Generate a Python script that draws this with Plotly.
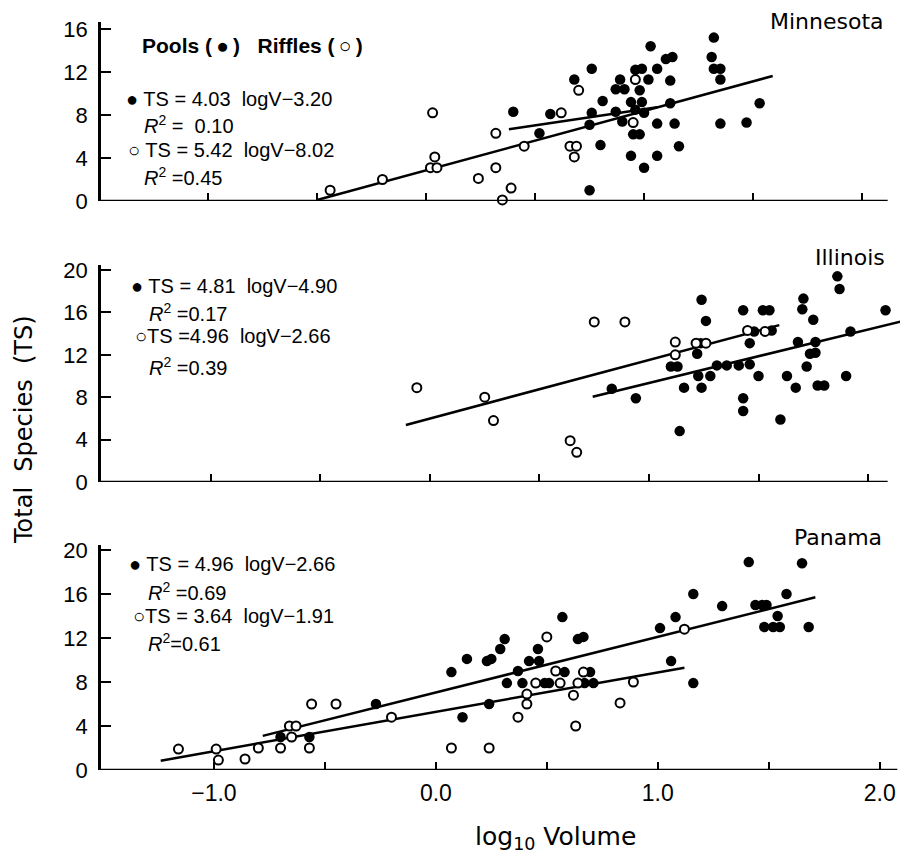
import plotly.graph_objects as go

# ---- data (log10 volume, total species) ----
# Minnesota
mn_pool_x = [0.40, 0.57, 0.52, 0.68, 0.76, 0.76, 0.75, 0.75, 0.80, 0.81,
             1.32, 1.03, 0.96, 0.99, 1.06, 1.10, 1.13, 1.31, 1.32, 1.35, 1.35,
             0.89, 1.02, 1.12, 0.87, 0.91, 0.98, 0.94, 0.99, 1.12, 1.53,
             0.87, 0.96, 1.00, 0.90, 1.06, 1.14, 1.35, 1.47, 0.95, 0.98,
             1.16, 0.94, 1.06, 1.00]
mn_pool_y = [8.3, 8.1, 6.3, 11.3, 12.3, 8.2, 7.1, 1.0, 5.2, 9.3,
             15.2, 14.4, 12.2, 12.3, 12.3, 13.2, 13.4, 13.4, 12.3, 12.3, 11.3,
             11.3, 11.3, 11.2, 10.4, 10.4, 10.3, 9.2, 9.2, 9.1, 9.1,
             8.3, 8.5, 8.2, 7.4, 7.2, 7.2, 7.2, 7.3, 6.2, 6.2,
             5.1, 4.2, 4.2, 3.1]
mn_riffle_x = [-0.44, -0.20, 0.03, 0.04, 0.02, 0.05, 0.24, 0.32, 0.35, 0.39,
               0.32, 0.45, 0.62, 0.70, 0.66, 0.69, 0.68, 0.96, 0.95]
mn_riffle_y = [1.0, 2.0, 8.2, 4.1, 3.1, 3.1, 2.1, 3.1, 0.1, 1.2,
               6.3, 5.1, 8.2, 10.3, 5.1, 5.1, 4.1, 11.3, 7.3]
mn_pool_line = ([0.38, 1.06], [6.67, 8.72])
mn_riffle_line = ([-0.50, 1.59], [0.09, 11.63])

# Illinois
il_pool_x = [0.83, 0.94, 1.22, 1.236, 1.24, 1.26, 1.10, 1.13, 1.225, 1.28,
             1.16, 1.24, 1.14, 1.31, 1.355, 1.41, 1.46, 1.43, 1.52, 1.55,
             1.48, 1.56, 1.46, 1.50, 1.43, 1.43, 1.60, 1.63, 1.67, 1.68,
             1.705, 1.70, 1.75, 1.76, 1.735, 1.76, 1.72, 1.77, 1.80, 1.86,
             1.87, 1.90, 1.92, 2.08]
il_pool_y = [8.8, 7.9, 12.1, 13.1, 17.2, 15.2, 10.9, 10.9, 10.0, 10.0,
             8.9, 8.9, 4.8, 11.0, 11.0, 11.0, 11.1, 16.2, 16.2, 16.2,
             14.2, 14.3, 13.1, 10.0, 7.9, 6.7, 5.9, 10.0, 8.9, 13.2,
             17.3, 16.3, 15.3, 13.2, 12.1, 12.2, 10.9, 9.1, 9.1, 19.4,
             18.2, 10.0, 14.2, 16.2]
il_riffle_x = [-0.06, 0.25, 0.29, 0.64, 0.67, 0.75, 0.89, 1.12, 1.12, 1.215,
               1.26, 1.45, 1.53]
il_riffle_y = [8.9, 8.0, 5.8, 3.9, 2.8, 15.1, 15.1, 13.2, 12.0, 13.1,
               13.1, 14.3, 14.2]
il_pool_line = ([0.743, 2.177], [8.05, 15.28])
il_riffle_line = ([-0.11, 1.595], [5.38, 14.8])

# Panama
pa_pool_x = [-0.70, -0.57, -0.27, 0.07, 0.12, 0.14, 0.23, 0.25, 0.29, 0.31,
             0.24, 0.32, 0.37, 0.39, 0.42, 0.46, 0.465, 0.49, 0.51, 0.57,
             0.58, 0.64, 0.665, 0.695, 0.67, 0.71, 1.01, 1.06, 1.16, 1.08,
             1.16, 1.29, 1.41, 1.44, 1.47, 1.49, 1.54, 1.48, 1.52, 1.55,
             1.58, 1.65, 1.68]
pa_pool_y = [3.0, 3.0, 6.0, 8.9, 4.8, 10.1, 9.9, 10.1, 11.0, 11.9,
             6.0, 7.9, 9.0, 7.9, 9.9, 11.0, 9.9, 7.9, 7.9, 13.9,
             8.9, 11.9, 12.1, 8.9, 7.9, 7.9, 12.9, 9.9, 7.9, 13.9,
             16.0, 14.9, 18.9, 15.0, 15.0, 15.0, 14.0, 13.0, 13.0, 13.0,
             16.0, 18.8, 13.0]
pa_riffle_x = [-1.16, -0.99, -0.98, -0.86, -0.80, -0.70, -0.65, -0.66, -0.63, -0.57,
               -0.56, -0.45, -0.20, 0.07, 0.24, 0.37, 0.41, 0.41, 0.45, 0.50,
               0.54, 0.56, 0.62, 0.63, 0.665, 0.64, 0.83, 0.89, 1.12]
pa_riffle_y = [1.9, 1.9, 0.9, 1.0, 2.0, 2.0, 3.0, 4.0, 4.0, 2.0,
               6.0, 6.0, 4.8, 2.0, 2.0, 4.8, 6.9, 6.0, 7.9, 12.1,
               9.0, 7.9, 6.8, 4.0, 8.9, 7.9, 6.1, 8.0, 12.8]
pa_pool_line = ([-0.78, 1.71], [3.1, 15.7])
pa_riffle_line = ([-1.24, 1.12], [0.85, 9.3])

x_tickvals = [-1.0, -0.5, 0.0, 0.5, 1.0, 1.5, 2.0]
x_ticktext = ["\u22121.0", "", "0.0", "", "1.0", "", "2.0"]
y_ticks_mn = [0, 4, 8, 12, 16]
y_ticks_other = [0, 4, 8, 12, 16, 20]

panels = [
    ("x", "y", mn_pool_x, mn_pool_y, mn_riffle_x, mn_riffle_y, mn_pool_line, mn_riffle_line),
    ("x2", "y2", il_pool_x, il_pool_y, il_riffle_x, il_riffle_y, il_pool_line, il_riffle_line),
    ("x3", "y3", pa_pool_x, pa_pool_y, pa_riffle_x, pa_riffle_y, pa_pool_line, pa_riffle_line),
]

FONT = "Liberation Sans, Arial, sans-serif"
WIDE = "DejaVu Sans, sans-serif"
# the page body has an 8px margin, so the figure is a bit smaller than the window
OFF = 8
W, H = 908 - OFF, 861 - OFF
L, R = 101 - OFF, 1

# helpers: page pixel -> paper coordinate
def px(x):
    return (x - OFF - L) / (W - L - R)

def py(y):
    return 1 - (y - OFF) / H

fig = go.Figure()

for xa, ya, pxs, pys, rxs, rys, pline, rline in panels:
    for line in (pline, rline):
        fig.add_trace(go.Scatter(x=line[0], y=line[1], mode="lines", xaxis=xa, yaxis=ya,
                                 line=dict(color="black", width=2.5), hoverinfo="skip"))
    fig.add_trace(go.Scatter(x=pxs, y=pys, mode="markers", xaxis=xa, yaxis=ya, cliponaxis=False,
                             marker=dict(symbol="circle", size=10.5, color="black")))
    fig.add_trace(go.Scatter(x=rxs, y=rys, mode="markers", xaxis=xa, yaxis=ya, cliponaxis=False,
                             marker=dict(symbol="circle", size=9, color="white",
                                         line=dict(color="black", width=2))))

xcommon = dict(showline=False, showgrid=False, zeroline=False, ticks="inside", ticklen=8,
               tickwidth=2, tickcolor="black", tickvals=x_tickvals, automargin=False,
               tickfont=dict(family=FONT, size=23, color="black"))
ycommon = dict(showline=True, linewidth=2.5, linecolor="black", showgrid=False, zeroline=False,
               ticks="inside", ticklen=10, tickwidth=2, tickcolor="black", automargin=False,
               ticklabelstandoff=6, tickfont=dict(family=FONT, size=22, color="black"))

fig.update_layout(
    width=W, height=H,
    margin=dict(l=L, r=R, t=0, b=0),
    paper_bgcolor="white", plot_bgcolor="white",
    showlegend=False,
    xaxis=dict(xcommon, domain=[0, 1], anchor="y", range=[-1.491, 2.206], showticklabels=False),
    yaxis=dict(ycommon, domain=[py(201), py(21.5)], anchor="x", range=[0, 16.7], tickvals=y_ticks_mn),
    xaxis2=dict(xcommon, domain=[0, 1], anchor="y2", range=[-1.502, 2.178], showticklabels=False),
    yaxis2=dict(ycommon, domain=[py(482), py(264.7)], anchor="x2", range=[0, 20.5], tickvals=y_ticks_other),
    xaxis3=dict(xcommon, domain=[0, 1], anchor="y3", range=[-1.509, 2.123],
                ticktext=x_ticktext, ticklabelstandoff=7),
    yaxis3=dict(ycommon, domain=[py(770), py(544.5)], anchor="x3", range=[0, 20.5], tickvals=y_ticks_other),
)

# baselines of the three panels (they stop short of the right edge)
for yref, xref, end in (("y", "x domain", 0.976), ("y2", "x2 domain", 0.976), ("y3", "x3 domain", 0.988)):
    fig.add_shape(type="line", xref=xref, yref=yref, x0=0, x1=end, y0=0, y1=0,
                  line=dict(color="black", width=2.5))

def note(text, x, y, size=20, xanchor="left", family=FONT):
    fig.add_annotation(text=text, x=px(x), y=py(y), xref="paper", yref="paper",
                       xanchor=xanchor, yanchor="middle", showarrow=False,
                       font=dict(family=family, size=size, color="black"))

# panel titles
note("Minnesota", 886, 22, size=22, xanchor="right", family=WIDE)
note("Illinois", 887, 257, size=22, xanchor="right", family=WIDE)
note("Panama", 884, 537, size=22, xanchor="right", family=WIDE)

# legend and regression equations
note("<b>Pools (\u2009\u25cf\u2009)   Riffles (\u2009\u25cb\u2009)</b>", 140, 45, size=21)

note("\u25cf TS = 4.03  logV\u22123.20", 124, 99)
note("<i>R</i><sup>2</sup> =  0.10", 142, 124)
note("\u25cb TS = 5.42  logV\u22128.02", 126, 150)
note("<i>R</i><sup>2</sup> =0.45", 142, 176)

note("\u25cf TS = 4.81  logV\u22124.90", 129, 286)
note("<i>R</i><sup>2</sup> =0.17", 147, 312)
note("\u25cbTS =4.96  logV\u22122.66", 133, 336)
note("<i>R</i><sup>2</sup> =0.39", 147, 366)

note("\u25cf TS = 4.96  logV\u22122.66", 127, 564)
note("<i>R</i><sup>2</sup> =0.69", 146, 591)
note("\u25cbTS = 3.64  logV\u22121.91", 131, 616)
note("<i>R</i><sup>2</sup>=0.61", 146, 642)

# axis titles
fig.add_annotation(text="Total  Species  (TS)", x=px(24), y=py(430), xref="paper", yref="paper",
                   textangle=-90, showarrow=False, xanchor="center", yanchor="middle",
                   font=dict(family=WIDE, size=24, color="black"))
fig.add_annotation(text="log<sub>10</sub> Volume", x=px(555), y=py(838), xref="paper", yref="paper",
                   showarrow=False, xanchor="center", yanchor="middle",
                   font=dict(family=WIDE, size=25, color="black"))

fig.write_html("out.html")
